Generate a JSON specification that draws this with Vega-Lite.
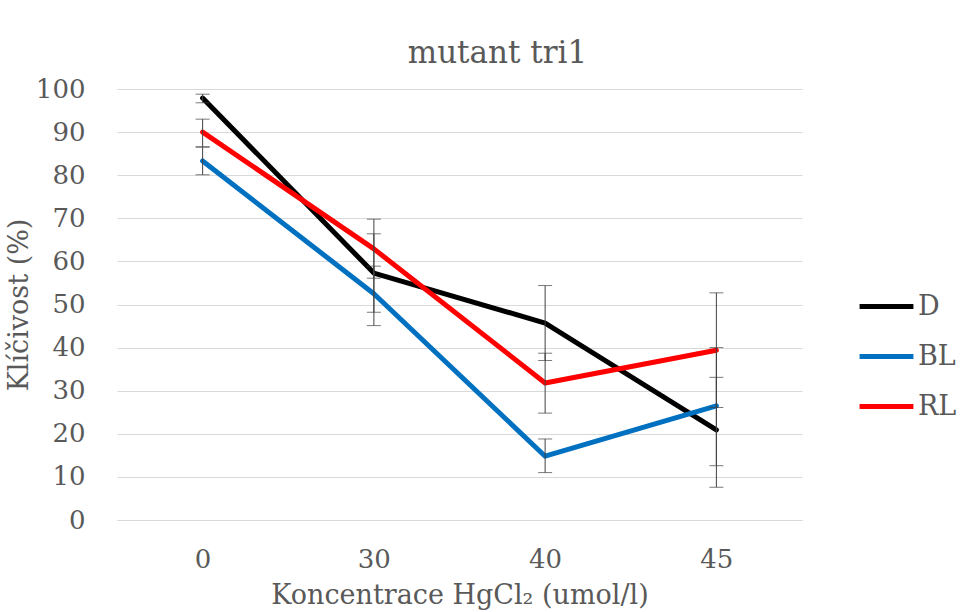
{
  "$schema": "https://vega.github.io/schema/vega-lite/v6.json",
  "width": 685,
  "height": 431,
  "autosize": {"type": "none"},
  "padding": {"left": 117, "top": 89, "right": 178, "bottom": 92},
  "background": "white",
  "title": {
    "text": "mutant tri1",
    "anchor": "middle",
    "frame": "group",
    "dx": 38,
    "offset": 6,
    "font": "DejaVu Serif",
    "fontSize": 31,
    "fontWeight": "normal",
    "color": "#595959"
  },
  "data": {
    "values": [
      {"group": "D", "conc": "0", "mean": 97.9, "lo": 96.8, "hi": 98.8},
      {"group": "D", "conc": "30", "mean": 57.3, "lo": 48.2, "hi": 66.4},
      {"group": "D", "conc": "40", "mean": 45.7, "lo": 37.0, "hi": 54.4},
      {"group": "D", "conc": "45", "mean": 20.9, "lo": 7.6, "hi": 33.1},
      {"group": "BL", "conc": "0", "mean": 83.3, "lo": 80.1, "hi": 86.5},
      {"group": "BL", "conc": "30", "mean": 52.5, "lo": 45.1, "hi": 58.9},
      {"group": "BL", "conc": "40", "mean": 14.8, "lo": 11.0, "hi": 18.8},
      {"group": "BL", "conc": "45", "mean": 26.5, "lo": 12.6, "hi": 40.0},
      {"group": "RL", "conc": "0", "mean": 90.0, "lo": 86.6, "hi": 93.0},
      {"group": "RL", "conc": "30", "mean": 62.9, "lo": 56.1, "hi": 69.8},
      {"group": "RL", "conc": "40", "mean": 31.8, "lo": 24.8, "hi": 38.7},
      {"group": "RL", "conc": "45", "mean": 39.4, "lo": 26.1, "hi": 52.7}
    ]
  },
  "encoding": {
    "x": {
      "field": "conc",
      "type": "ordinal",
      "sort": ["0", "30", "40", "45"],
      "scale": {"type": "point", "padding": 0.5},
      "axis": {
        "title": "Koncentrace HgCl₂ (umol/l)",
        "labelAngle": 0,
        "ticks": false,
        "labelPadding": 26,
        "titlePadding": 10,
        "domainColor": "#d9d9d9",
        "grid": false
      }
    }
  },
  "layer": [
    {
      "mark": {"type": "line", "strokeWidth": 5, "strokeCap": "round", "strokeJoin": "round"},
      "encoding": {
        "y": {
          "field": "mean",
          "type": "quantitative",
          "scale": {"domain": [0, 100], "nice": false},
          "axis": {
            "title": "Klíčivost (%)",
            "values": [0, 10, 20, 30, 40, 50, 60, 70, 80, 90, 100],
            "ticks": false,
            "domain": false,
            "labelPadding": 32,
            "titlePadding": 2,
            "gridColor": "#d9d9d9"
          }
        },
        "color": {
          "field": "group",
          "type": "nominal",
          "sort": ["D", "BL", "RL"],
          "scale": {"domain": ["D", "BL", "RL"], "range": ["#000000", "#0070C0", "#FF0000"]},
          "legend": {
            "title": null,
            "orient": "none",
            "legendX": 740,
            "legendY": 188,
            "symbolType": "stroke",
            "symbolStrokeWidth": 5,
            "symbolSize": 2900,
            "labelFontSize": 27,
            "labelFont": "DejaVu Serif",
            "labelColor": "#595959",
            "rowPadding": 7,
            "labelOffset": 2
          }
        },
        "order": {"field": "group"}
      }
    },
    {
      "mark": {"type": "rule", "color": "#404040", "strokeWidth": 1},
      "encoding": {
        "y": {"field": "lo", "type": "quantitative"},
        "y2": {"field": "hi"}
      }
    },
    {
      "mark": {"type": "tick", "orient": "horizontal", "color": "#404040", "size": 14, "thickness": 1},
      "encoding": {"y": {"field": "lo", "type": "quantitative"}}
    },
    {
      "mark": {"type": "tick", "orient": "horizontal", "color": "#404040", "size": 14, "thickness": 1},
      "encoding": {"y": {"field": "hi", "type": "quantitative"}}
    }
  ],
  "config": {
    "view": {"stroke": null},
    "font": "DejaVu Serif",
    "axis": {
      "labelFont": "DejaVu Serif",
      "titleFont": "DejaVu Serif",
      "labelFontSize": 26,
      "titleFontSize": 27,
      "titleFontWeight": "normal",
      "labelColor": "#595959",
      "titleColor": "#595959"
    }
  }
}
